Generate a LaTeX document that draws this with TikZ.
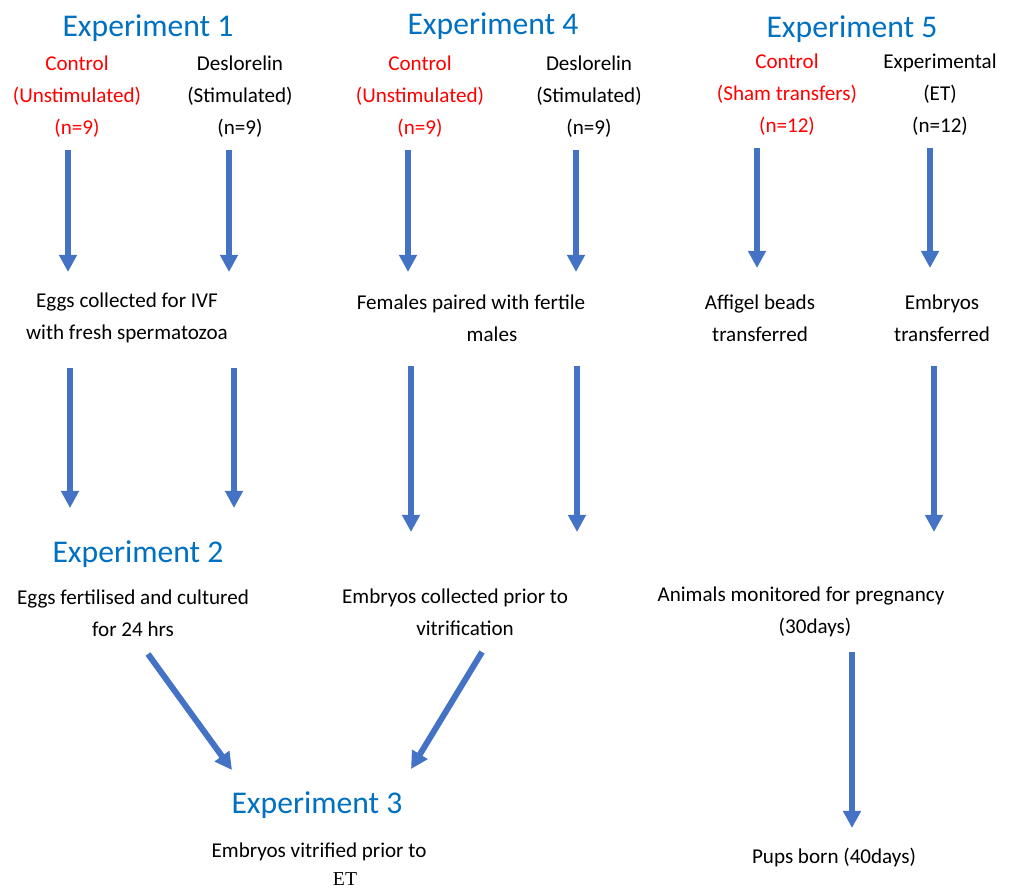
\documentclass[tikz,border=0pt]{standalone}
\usepackage{fontspec}
\setmainfont{Carlito}
\newfontfamily\etfont{Liberation Serif}
\usetikzlibrary{arrows.meta, calc}
\definecolor{expblue}{HTML}{0070C0}
\definecolor{ctlred}{HTML}{FF0000}
\definecolor{arrblue}{HTML}{4472C4}

\begin{document}
\begin{tikzpicture}[
    x=0.025cm, y=-0.025cm,
    every node/.style={font=\fontsize{15}{22.8}\selectfont, align=center, inner sep=0pt},
    ttl/.style={font=\fontsize{22.5}{27}\selectfont, text=expblue},
    ctl/.style={text=ctlred},
    a/.style={draw=arrblue, line width=0.15cm, -{Triangle[width=0.43cm, length=0.43cm]}}
]
\useasboundingbox (0,0) rectangle (1016,890);
% Experiment 1
\node[ttl] (x1) at (148,28) {Experiment 1};
\node[ctl] (c1) at (77,97) {Control\\(Unstimulated)\\(n=9)};
\node (d1) at (240,97) {Deslorelin\\(Stimulated)\\(n=9)};
\node (egg) at (127,318) {Eggs collected for IVF\\with fresh spermatozoa};
% Experiment 2
\node[ttl] (x2) at (138,554) {Experiment 2};
\node (fer) at (133,613) {Eggs fertilised and cultured\\for 24 hrs};
% Experiment 4
\node[ttl] (x4) at (493,26) {Experiment 4};
\node[ctl] (c4) at (420,97) {Control\\(Unstimulated)\\(n=9)};
\node (d4) at (589,97) {Deslorelin\\(Stimulated)\\(n=9)};
\node (fem) at (471,318) {Females paired with fertile\\\hspace*{1.05cm}males};
\node (col) at (455,612) {Embryos collected prior to\\\hspace*{0.5cm}vitrification};
% Experiment 3
\node[ttl] (x3) at (317,805) {Experiment 3};
\node (vit) at (319,852) {Embryos vitrified prior to};
\node[font=\etfont\fontsize{14}{16}\selectfont] (vet) at (345,879) {ET};
% Experiment 5
\node[ttl] (x5) at (852,29) {Experiment 5};
\node[ctl] (c5) at (787,95) {Control\\(Sham transfers)\\(n=12)};
\node (e5) at (940,95) {Experimental\\(ET)\\(n=12)};
\node (aff) at (760,318) {Affigel beads\\transferred};
\node (emb) at (942,318) {Embryos\\transferred};
\node (mon) at (801,612) {Animals monitored for pregnancy\\\hspace*{0.7cm}(30days)};
\node (pup) at (834,857) {Pups born (40days)};

\draw[a] ($(c1)+(-9,53)$) -- ($(egg)+(-59,-46)$);
\draw[a] ($(d1)+(-11,53)$) -- ($(egg)+(102,-46)$);
\draw[a] ($(c4)+(-12,53)$) -- ($(fem)+(-63,-46)$);
\draw[a] ($(d4)+(-13,53)$) -- ($(fem)+(105,-46)$);
\draw[a] ($(c5)+(-30,53)$) -- ($(aff)+(-3,-50)$);
\draw[a] ($(e5)+(-10,53)$) -- ($(emb)+(-12,-50)$);
\draw[a] ($(egg)+(-57,50)$) -- ($(x2)+(-68,-46)$);
\draw[a] ($(egg)+(107,50)$) -- ($(x2)+(96,-46)$);
\draw[a] ($(fem)+(-60,48)$) -- ($(col)+(-44,-80)$);
\draw[a] ($(fem)+(106,48)$) -- ($(col)+(122,-80)$);
\draw[a] ($(emb)+(-8,48)$) -- ($(mon)+(133,-80)$);
\draw[a] ($(fer)+(15,41)$) -- ($(x3)+(-85,-35)$);
\draw[a] ($(col)+(27,40)$) -- ($(x3)+(94,-36)$);
\draw[a] ($(mon)+(51,40)$) -- ($(pup)+(18,-29)$);
\end{tikzpicture}
\end{document}
